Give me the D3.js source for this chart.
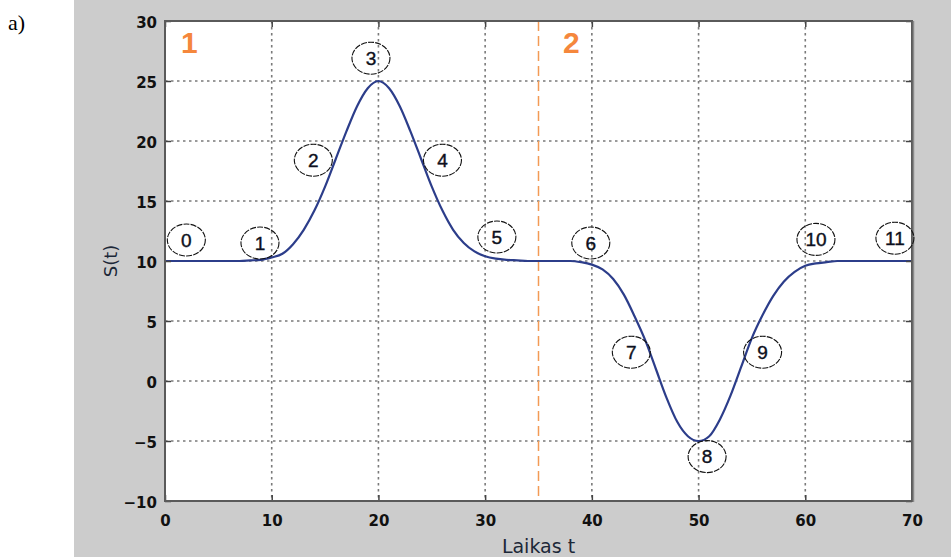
<!DOCTYPE html>
<html>
<head>
<meta charset="utf-8">
<script src="https://cdn.jsdelivr.net/npm/d3@7"></script>
<style>
  html, body { margin: 0; padding: 0; background: #fff; }
  svg { display: block; }
</style>
</head>
<body>
<svg id="chart" width="951" height="557"></svg>
<script>
// Time axis samples and signal S(t)
const timeValues = d3.range(0, 71);
const signalValues = [
  10, 10, 10, 10, 10, 10, 10, 10, 10.05, 10.1,
  10.3, 10.6, 11.4, 12.6, 14.2, 16.2, 18.5, 20.8, 22.9, 24.4,
  25, 24.4, 22.9, 20.8, 18.5, 16.2, 14.2, 12.6, 11.5, 10.8,
  10.4, 10.2, 10.1, 10.05, 10, 10, 10, 10, 10, 9.9,
  9.7, 9.3, 8.5, 7.2, 5.4, 3.4, 1.0, -1.4, -3.4, -4.6,
  -5, -4.6, -3.2, -1.2, 1.2, 3.6, 5.5, 7.1, 8.3, 9.1,
  9.6, 9.8, 9.9, 10, 10, 10, 10, 10, 10, 10,
  10
];

// Numbered point markers along the curve
const markerLabels = ["0", "1", "2", "3", "4", "5", "6", "7", "8", "9", "10", "11"];
const markerT = [2.0, 8.9, 13.9, 19.3, 26.0, 31.1, 39.9, 43.7, 50.8, 56.0, 61.0, 68.4];
const markerS = [11.75, 11.5, 18.4, 26.9, 18.4, 12.0, 11.5, 2.4, -6.3, 2.4, 11.8, 11.9];

// Phase divider and phase numbers
const phaseBoundary = 35;
const phaseLabels = ["1", "2"];
const phaseT = [1.5, 37.3];
const phaseS = [27.3, 27.3];

// Axis ticks
const xTicks = [0, 10, 20, 30, 40, 50, 60, 70];
const yTicks = [-10, -5, 0, 5, 10, 15, 20, 25, 30];

const svg = d3.select("#chart");

// Figure panel background
svg.append("rect").attr("x", 74).attr("y", 0).attr("width", 877).attr("height", 557).attr("fill", "#cccccc");

svg.append("text").attr("x", 8).attr("y", 30)
  .attr("font-family", "Liberation Serif, Times New Roman, serif")
  .attr("font-size", 22).attr("fill", "#000").text("a)");

const plotLeft = 165, plotRight = 912, plotTop = 21, plotBottom = 501;
const x = d3.scaleLinear().domain([0, 70]).range([plotLeft, plotRight]);
const y = d3.scaleLinear().domain([-10, 30]).range([plotBottom, plotTop]);

// Plot area
svg.append("rect").attr("x", plotLeft).attr("y", plotTop)
  .attr("width", plotRight - plotLeft).attr("height", plotBottom - plotTop)
  .attr("fill", "#fff");

// Dotted grid
const grid = svg.append("g").attr("stroke", "#7a7a7a").attr("stroke-width", 1.6).attr("stroke-dasharray", "2.5,3.5");
grid.selectAll("line.v").data(xTicks.slice(1, -1)).join("line").attr("class", "v")
  .attr("x1", d => x(d)).attr("x2", d => x(d)).attr("y1", plotTop).attr("y2", plotBottom);
grid.selectAll("line.h").data(yTicks.slice(1, -1)).join("line").attr("class", "h")
  .attr("x1", plotLeft).attr("x2", plotRight).attr("y1", d => y(d)).attr("y2", d => y(d));

// Phase divider
svg.append("line").attr("x1", x(phaseBoundary)).attr("x2", x(phaseBoundary))
  .attr("y1", plotTop).attr("y2", plotBottom)
  .attr("stroke", "#f39a55").attr("stroke-width", 1.5).attr("stroke-dasharray", "10,5");

// Phase numbers
svg.selectAll("text.phase").data(phaseLabels).join("text")
  .attr("class", "phase")
  .attr("x", (d, i) => x(phaseT[i])).attr("y", (d, i) => y(phaseS[i]))
  .attr("font-family", "Liberation Sans, Arial, sans-serif")
  .attr("font-weight", "bold").attr("font-size", 30)
  .attr("fill", "#f5873c").text(d => d);

// Signal curve
const line = d3.line()
  .x((d, i) => x(timeValues[i]))
  .y(d => y(d))
  .curve(d3.curveMonotoneX);
svg.append("path").datum(signalValues)
  .attr("d", line)
  .attr("fill", "none").attr("stroke", "#2c3d8a").attr("stroke-width", 2.2);

// Axes (MATLAB-style inward ticks)
const tickFont = "DejaVu Sans, Verdana, sans-serif";
const xAxis = svg.append("g").attr("transform", `translate(0,${plotBottom})`)
  .call(d3.axisBottom(x).tickValues(xTicks).tickSizeInner(-6).tickSizeOuter(0).tickPadding(14).tickFormat(d3.format("d")));
const yAxis = svg.append("g").attr("transform", `translate(${plotLeft},0)`)
  .call(d3.axisLeft(y).tickValues(yTicks).tickSizeInner(-6).tickSizeOuter(0).tickPadding(8).tickFormat(d3.format("d")));
svg.append("g").attr("transform", `translate(0,${plotTop})`)
  .call(d3.axisTop(x).tickValues(xTicks).tickSizeInner(-6).tickSizeOuter(0).tickFormat(""));
svg.append("g").attr("transform", `translate(${plotRight},0)`)
  .call(d3.axisRight(y).tickValues(yTicks).tickSizeInner(-6).tickSizeOuter(0).tickFormat(""));

svg.selectAll(".domain").remove();
svg.selectAll(".tick line").attr("stroke", "#444").attr("stroke-width", 1.5);
[xAxis, yAxis].forEach(g => g.selectAll("text")
  .attr("font-family", tickFont).attr("font-weight", "bold").attr("font-size", 15).attr("fill", "#111"));
yAxis.selectAll("text").attr("dy", "0.45em");

// Frame
svg.append("rect").attr("x", plotLeft).attr("y", plotTop)
  .attr("width", plotRight - plotLeft).attr("height", plotBottom - plotTop)
  .attr("fill", "none").attr("stroke", "#5a5a5a").attr("stroke-width", 2);
svg.append("line").attr("x1", plotRight + 1.5).attr("x2", plotRight + 1.5).attr("y1", plotTop).attr("y2", plotBottom + 1)
  .attr("stroke", "#8a8a8a").attr("stroke-width", 1.5);

// Numbered markers
const markers = svg.selectAll("g.marker").data(markerLabels).join("g")
  .attr("class", "marker")
  .attr("transform", (d, i) => `translate(${x(markerT[i])},${y(markerS[i])})`);
markers.append("ellipse").attr("rx", 19).attr("ry", 16)
  .attr("fill", "none").attr("stroke", "#111").attr("stroke-width", 1.1).attr("stroke-dasharray", "6,1.2");
markers.append("text").attr("text-anchor", "middle").attr("dy", "0.36em")
  .attr("font-family", "Liberation Sans, Arial, sans-serif").attr("font-size", 19)
  .attr("fill", "#0d1020").attr("stroke", "#0d1020").attr("stroke-width", 0.4).text(d => d);

// Axis titles
svg.append("text").attr("x", x(35)).attr("y", 553).attr("text-anchor", "middle")
  .attr("font-family", "DejaVu Sans, Verdana, sans-serif").attr("font-size", 19)
  .attr("fill", "#1c2838").text("Laikas t");
svg.append("text").attr("transform", `translate(117,${y(10)}) rotate(-90)`).attr("text-anchor", "middle")
  .attr("font-family", "DejaVu Sans, Verdana, sans-serif").attr("font-size", 18)
  .attr("fill", "#1c2838").text("S(t)");
</script>
</body>
</html>
